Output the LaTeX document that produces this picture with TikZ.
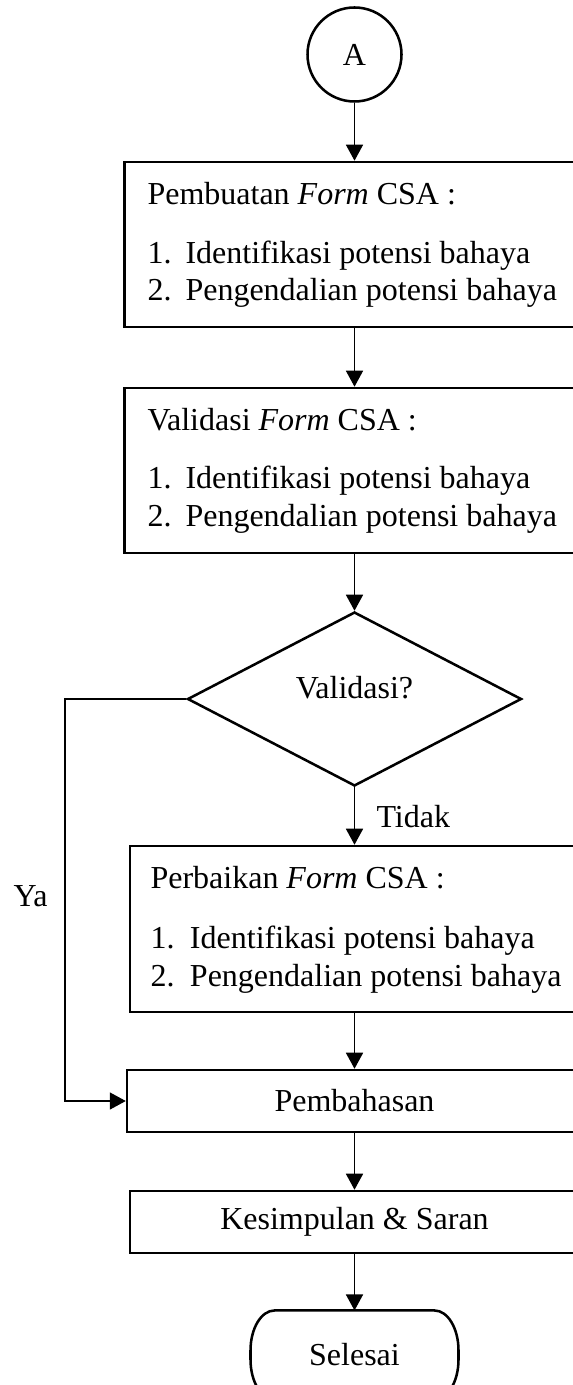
\documentclass[tikz,border=0pt]{standalone}
\usepackage{fontspec}
\setmainfont{Liberation Serif}
\usetikzlibrary{shapes.geometric,arrows.meta}
\begin{document}
\begin{tikzpicture}[x=0.375pt,y=-0.375pt,
  font=\fontsize{12pt}{14.25pt}\selectfont,
  shapeline/.style={draw, line width=0.95pt},
  procbox/.style={shapeline, rectangle, inner sep=0pt},
  conn/.style={line width=0.5pt, -{Triangle[length=6pt,width=6.4pt]}},
  txt/.style={inner sep=0pt, anchor=base west},
  ctxt/.style={inner sep=0pt, anchor=base},
]
\useasboundingbox (0,0) rectangle (573,1385);
\clip (0,0) rectangle (573,1385);
% shapes
\node[shapeline, circle, minimum size=35.25pt, inner sep=0pt] (A) at (354.5,54.5) {A};
\node[procbox, minimum width=172.5pt, minimum height=61.9pt] (b1) at (354.5,244.5) {};
\node[procbox, minimum width=172.5pt, minimum height=61.9pt] (b2) at (354.5,470.5) {};
\node[shapeline, diamond, minimum width=125.25pt, minimum height=65.25pt, inner sep=0pt] (dec) at (354.5,699) {};
\node[procbox, minimum width=168.4pt, minimum height=62.25pt] (b3) at (354.5,929) {};
\node[procbox, minimum width=170.6pt, minimum height=23.25pt] (pemb) at (354.5,1101) {Pembahasan};
\node[procbox, minimum width=168.4pt, minimum height=23.25pt] (kes) at (354.5,1222) {Kesimpulan \& Saran};
\node[rectangle, minimum width=77.6pt, minimum height=33pt, inner sep=0pt] (sel) at (354.5,1355) {Selesai};
\draw[line width=0.95pt]
  ([xshift=9pt]sel.north west) -- ([xshift=-9pt]sel.north east)
  .. controls ([xshift=-4.03pt]sel.north east) and ([yshift=-6.72pt]sel.north east) .. ([yshift=-15pt]sel.north east)
  -- ([yshift=15pt]sel.south east)
  .. controls ([yshift=6.72pt]sel.south east) and ([xshift=-4.03pt]sel.south east) .. ([xshift=-9pt]sel.south east)
  -- ([xshift=9pt]sel.south west)
  .. controls ([xshift=4.03pt]sel.south west) and ([yshift=6.72pt]sel.south west) .. ([yshift=15pt]sel.south west)
  -- ([yshift=-15pt]sel.north west)
  .. controls ([yshift=-6.72pt]sel.north west) and ([xshift=4.03pt]sel.north west) .. ([xshift=9pt]sel.north west)
  -- cycle;
% texts
\node[txt] (t1) at (147,205) {Pembuatan \textit{Form} CSA :};
\node[txt] (t1a) at (147,264) {\makebox[14.25pt][l]{1.}Identifikasi potensi bahaya};
\node[txt] (t1b) at (147,301) {\makebox[14.25pt][l]{2.}Pengendalian potensi bahaya};
\node[txt] (t2) at (147,431) {Validasi \textit{Form} CSA :};
\node[txt] (t2a) at (147,489) {\makebox[14.25pt][l]{1.}Identifikasi potensi bahaya};
\node[txt] (t2b) at (147,527) {\makebox[14.25pt][l]{2.}Pengendalian potensi bahaya};
\node[ctxt] (vt) at (354.5,698) {Validasi?};
\node[txt] (tdk) at (376,827) {Tidak};
\node[txt] (ya) at (13,906) {Ya};
\node[txt] (t3) at (150,888) {Perbaikan \textit{Form} CSA :};
\node[txt] (t3a) at (150,948) {\makebox[14.8pt][l]{1.}Identifikasi potensi bahaya};
\node[txt] (t3b) at (150,986) {\makebox[14.8pt][l]{2.}Pengendalian potensi bahaya};
% connectors
\draw[conn] (A.south) -- (b1.north);
\draw[conn] (b1.south) -- (b2.north);
\draw[conn] (b2.south) -- (dec.north);
\draw[conn] (dec.south) -- (b3.north);
\draw[conn] (b3.south) -- (pemb.north);
\draw[conn] (pemb.south) -- (kes.north);
\draw[conn] (kes.south) -- (sel.north);
\coordinate (yax) at (65,900);
\draw[conn] (dec.west) -- (dec.west -| yax) -- (yax |- pemb.west) -- (pemb.west);
\end{tikzpicture}
\end{document}
